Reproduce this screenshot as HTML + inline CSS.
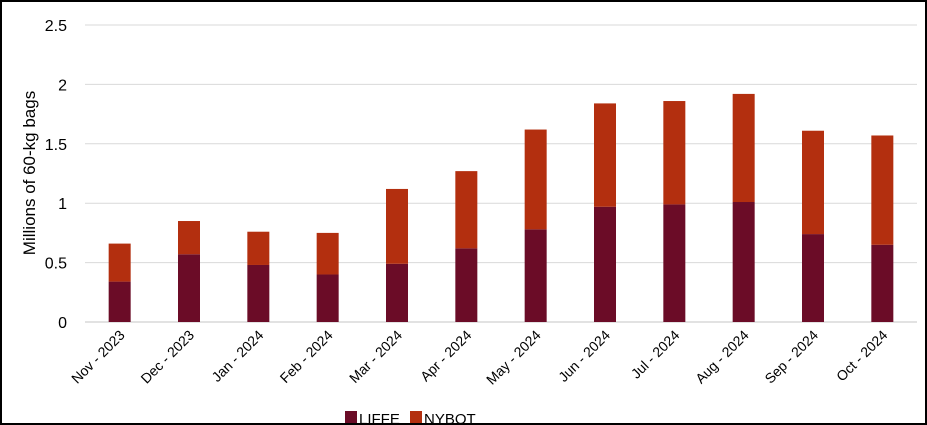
<!DOCTYPE html>
<html><head><meta charset="utf-8"><style>
html,body{margin:0;padding:0;background:#fff}
svg{display:block;font-family:"Liberation Sans",sans-serif}
</style></head><body>
<svg width="927" height="425" viewBox="0 0 927 425">
<rect x="1" y="1" width="925" height="423" fill="#fff" stroke="#000" stroke-width="2"/>
<g id="grid"></g><g id="bars"></g><g id="labels"></g>
<text transform="translate(35,173) rotate(-90)" text-anchor="middle" font-size="17" fill="#000">Millions of 60-kg bags</text>
<g>
<rect x="345" y="411" width="12" height="12" fill="#6b0c27"/>
<text x="359" y="424" font-size="15">LIFFE</text>
<rect x="410" y="411" width="12" height="12" fill="#b32f0f"/>
<text x="424" y="424" font-size="15">NYBOT</text>
</g>
</svg>
<script>
const categories=["Nov - 2023","Dec - 2023","Jan - 2024","Feb - 2024","Mar - 2024","Apr - 2024","May - 2024","Jun - 2024","Jul - 2024","Aug - 2024","Sep - 2024","Oct - 2024"];
const liffe=[0.34,0.57,0.48,0.40,0.49,0.62,0.78,0.97,0.99,1.01,0.74,0.65];
const nybot=[0.32,0.28,0.28,0.35,0.63,0.65,0.84,0.87,0.87,0.91,0.87,0.92];
const yTicks=[0,0.5,1,1.5,2,2.5];
const yTickLabels=["0","0.5","1","1.5","2","2.5"];
const NS="http://www.w3.org/2000/svg";
const x0=85,x1=917,yBase=322,yTop=25,yMax=2.5;
const band=(x1-x0)/categories.length;
const y=v=>yBase-(v/yMax)*(yBase-yTop);
const xc=i=>x0+band*(i+0.5);
function mk(t,a){const e=document.createElementNS(NS,t);for(const k in a)e.setAttribute(k,a[k]);return e;}
const grid=document.getElementById('grid'),bars=document.getElementById('bars'),labels=document.getElementById('labels');
yTicks.forEach((t,i)=>{
 const l=mk('line',{x1:x0,x2:x1,y1:y(t),y2:y(t),stroke:'#d9d9d9','stroke-width':t===0?1.5:1});
 
 
 grid.appendChild(l);
 const tx=mk('text',{x:67,y:y(t)+6,'text-anchor':'end','font-size':16});
 tx.textContent=yTickLabels[i];
 
 
 labels.appendChild(tx);
});
const bw=22;
categories.forEach((c,i)=>{
 const a=mk('rect',{x:xc(i)-bw/2,y:y(liffe[i]),width:bw,height:yBase-y(liffe[i]),fill:'#6b0c27'});
 
 
 bars.appendChild(a);
 const b=mk('rect',{x:xc(i)-bw/2,y:y(liffe[i]+nybot[i]),width:bw,height:y(liffe[i])-y(liffe[i]+nybot[i]),fill:'#b32f0f'});
 
 
 bars.appendChild(b);
 const t=mk('text',{transform:`translate(${xc(i)+6},${336}) rotate(-45)`,'text-anchor':'end','font-size':14});
 t.textContent=c;
 
 
 labels.appendChild(t);
});
</script>
</body></html>
